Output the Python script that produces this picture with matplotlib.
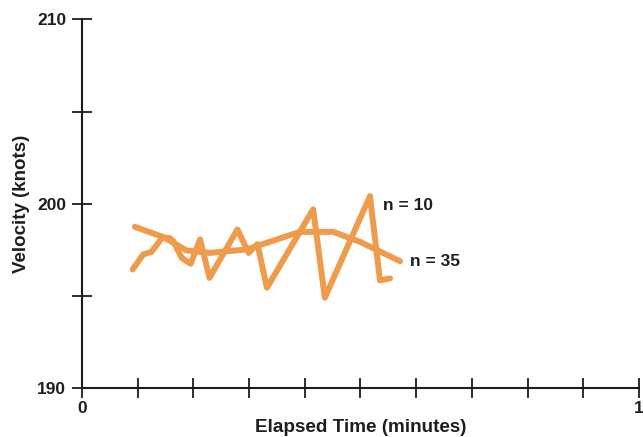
import matplotlib.pyplot as plt

# elapsed time (minutes) / velocity (knots)
n10_time = [0.091, 0.110, 0.125, 0.144, 0.158, 0.164, 0.179, 0.195, 0.212, 0.229,
            0.279, 0.299, 0.315, 0.332, 0.415, 0.436, 0.517, 0.535, 0.553]
n10_vel = [196.44, 197.26, 197.40, 198.17, 198.14, 197.98, 197.07, 196.75, 198.07, 195.99,
           198.61, 197.34, 197.82, 195.45, 199.70, 194.91, 200.42, 195.85, 195.96]

n35_time = [0.095, 0.146, 0.188, 0.230, 0.296, 0.391, 0.451, 0.499, 0.571]
n35_vel = [198.75, 198.2, 197.47, 197.34, 197.53, 198.48, 198.48, 197.94, 196.89]

orange = '#EE9B4B'
ink = '#1e1e1e'

plt.rcParams['font.family'] = ['Liberation Sans', 'DejaVu Sans']
plt.rcParams['font.weight'] = 'bold'

fig = plt.figure(figsize=(6.43, 4.37), dpi=100)
ax = fig.add_axes([0.1275, 0.1114, 0.8663, 0.8444])

ax.plot(n10_time, n10_vel, color=orange, lw=4.3, solid_joinstyle='round', solid_capstyle='round')
ax.plot(n35_time, n35_vel, color=orange, lw=4.3, solid_joinstyle='round', solid_capstyle='round')

ax.text(0.540, 199.9, 'n = 10', fontsize=12.5, color=ink, fontweight='bold', va='center')
ax.text(0.589, 196.85, 'n = 35', fontsize=12.5, color=ink, fontweight='bold', va='center')

ax.set_xlim(0, 1)
ax.set_ylim(190, 210)

ax.set_xticks([i / 10 for i in range(11)])
ax.set_xticklabels(['0'] + [''] * 9 + ['1'])
ax.set_yticks([190, 195, 200, 205, 210])
ax.set_yticklabels(['190', '', '200', '', '210'])

for side in ['top', 'right']:
    ax.spines[side].set_visible(False)
for side in ['left', 'bottom']:
    ax.spines[side].set_linewidth(1.5)
    ax.spines[side].set_color(ink)

ax.tick_params(axis='y', direction='inout', length=15, width=1.3, color=ink,
               labelsize=12.5, labelcolor=ink, pad=4)
ax.tick_params(axis='x', direction='inout', length=14, width=1.3, color=ink,
               labelsize=12.5, labelcolor=ink, pad=2)

ax.set_xlabel('Elapsed Time (minutes)', fontsize=13.6, color=ink, fontweight='bold')
ax.set_ylabel('Velocity (knots)', fontsize=13.5, color=ink, fontweight='bold')
ax.xaxis.set_label_coords(0.5, -0.105)
ax.yaxis.set_label_coords(-0.108, 0.5)
ax.xaxis.label.set_va('center')
ax.yaxis.label.set_va('center')

for lbl in ax.get_xticklabels() + ax.get_yticklabels():
    lbl.set_fontweight('bold')

ax.patch.set_visible(False)
for sp in ax.spines.values():
    sp.set_clip_on(False)

fig.savefig('out.png', dpi=100)
